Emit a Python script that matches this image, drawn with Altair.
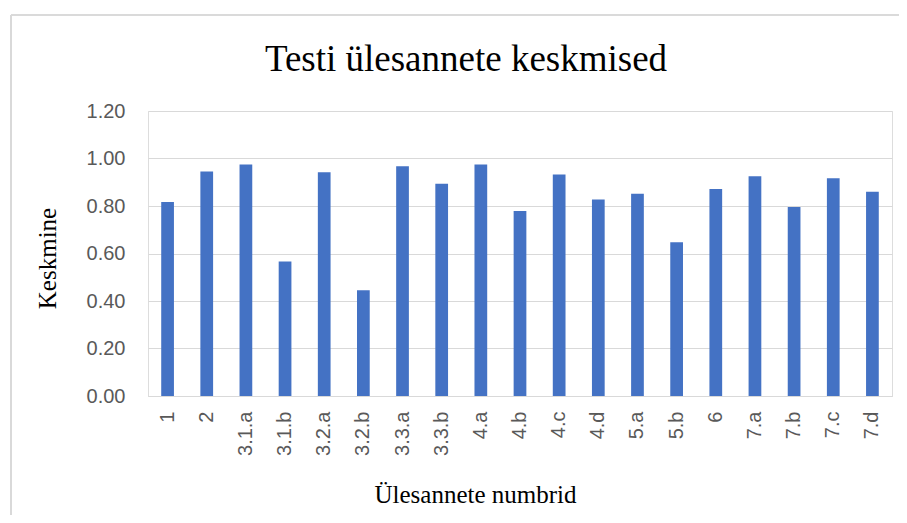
import altair as alt
import pandas as pd

categories = ["1", "2", "3.1.a", "3.1.b", "3.2.a", "3.2.b", "3.3.a", "3.3.b", "4.a", "4.b",
              "4.c", "4.d", "5.a", "5.b", "6", "7.a", "7.b", "7.c", "7.d"]
values = [0.817, 0.945, 0.975, 0.566, 0.942, 0.445, 0.967, 0.894, 0.975, 0.779,
          0.933, 0.827, 0.852, 0.647, 0.872, 0.925, 0.796, 0.917, 0.860]
y_ticks = [0.0, 0.2, 0.4, 0.6, 0.8, 1.0, 1.2]

df = pd.DataFrame({"task": categories, "mean": values})

LABEL_FONT = "Liberation Sans"
SERIF = "Liberation Serif"

bars = alt.Chart(df).mark_bar(color="#4472C4").encode(
    x=alt.X("task:N", sort=categories,
            scale=alt.Scale(paddingInner=0.675, paddingOuter=0.3375),
            axis=alt.Axis(title="Ülesannete numbrid", labelAngle=270, labelFont=LABEL_FONT,
                          labelFontSize=20, labelColor="#595959", labelPadding=15,
                          ticks=False, tickSize=0, domainColor="#D9D9D9", domainWidth=1.2,
                          titleFont=SERIF, titleFontSize=25, titleFontWeight="normal",
                          titleColor="#000000", titleX=327, titleY=106,
                          titleBaseline="alphabetic", titleAlign="center", grid=False)),
    y=alt.Y("mean:Q", scale=alt.Scale(domain=[0, 1.2], nice=False),
            axis=alt.Axis(title="Keskmine", values=y_ticks, format=".2f", labelFont=LABEL_FONT,
                          labelFontSize=20, labelColor="#595959", labelPadding=23,
                          ticks=False, tickSize=0, domain=False, gridColor="#D9D9D9",
                          gridWidth=1.2, titleFont=SERIF, titleFontSize=25,
                          titleFontWeight="normal", titleColor="#000000", titleX=-93,
                          titleY=147, titleAngle=270, titleBaseline="alphabetic",
                          titleAlign="center")),
)

border_top = alt.Chart(df).mark_rule(color="#D9D9D9", strokeWidth=1.2).encode(
    x=alt.value(-137), x2=alt.value(770), y=alt.value(-96))
border_left = alt.Chart(df).mark_rule(color="#D9D9D9", strokeWidth=1.2).encode(
    x=alt.value(-137), y=alt.value(-96), y2=alt.value(420))

chart = alt.layer(border_top, border_left, bars).properties(
    width=744, height=285,
    title=alt.Title("Testi ülesannete keskmised", font=SERIF, fontSize=37,
                    fontWeight="normal", color="#000000", anchor="middle", dx=-54,
                    baseline="alphabetic", offset=-94),
    autosize=alt.AutoSizeParams(type="none"),
    padding={"left": 140, "top": 103, "right": 7, "bottom": 119},
).configure_view(stroke=None).configure(background="#FFFFFF")

chart.save("out.html", embed_options={"renderer": "svg", "actions": False})
